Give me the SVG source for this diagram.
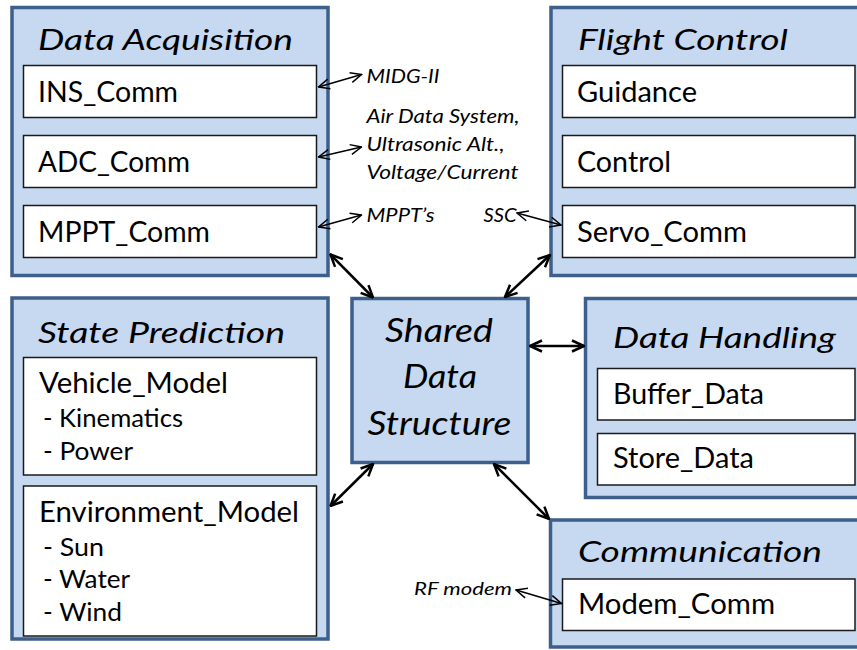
<svg xmlns="http://www.w3.org/2000/svg" width="857" height="650" viewBox="0 0 857 650">
<style>
.outer{fill:#c6d9f1;stroke:#3d5f8b;stroke-width:3.5}
.inner{fill:#ffffff;stroke:#1a1a1a;stroke-width:1.5}
text{font-family:Lato,"Open Sans","Liberation Sans",sans-serif;fill:#000}
.title{font-size:29px;font-style:italic}
.body{font-size:28px}
.sub{font-size:25px}
.shared{font-size:33px;font-style:italic}
.lbl{font-size:20px;font-style:italic}
.thin{stroke:#000;stroke-width:1.5;fill:none;marker-start:url(#ht);marker-end:url(#ht)}
.thick{stroke:#000;stroke-width:2.5;fill:none;marker-start:url(#hk);marker-end:url(#hk)}
</style>
<defs>
<marker id="ht" viewBox="0 0 13 13" refX="12" refY="6.5" markerWidth="13" markerHeight="13" markerUnits="userSpaceOnUse" orient="auto-start-reverse">
<path d="M1,1.5 L12,6.5 L1,11.5" fill="none" stroke="#000" stroke-width="1.5"/>
</marker>
<marker id="hk" viewBox="0 0 14 14" refX="13" refY="7" markerWidth="14" markerHeight="14" markerUnits="userSpaceOnUse" orient="auto-start-reverse">
<path d="M1,1.5 L13,7 L1,12.5" fill="none" stroke="#000" stroke-width="2.5"/>
</marker>
</defs>

<g id="data-acquisition">
<rect class="outer" x="12" y="7.5" width="316" height="268"/>
<text class="title" x="38" y="50" textLength="255" lengthAdjust="spacingAndGlyphs">Data Acquisition</text>
<rect class="inner" x="23.5" y="65.5" width="293" height="52"/>
<text class="body" x="38" y="102" textLength="140" lengthAdjust="spacingAndGlyphs">INS_Comm</text>
<rect class="inner" x="23.5" y="135.5" width="293" height="52"/>
<text class="body" x="38" y="172" textLength="152" lengthAdjust="spacingAndGlyphs">ADC_Comm</text>
<rect class="inner" x="23.5" y="205.5" width="293" height="52"/>
<text class="body" x="38" y="242" textLength="172" lengthAdjust="spacingAndGlyphs">MPPT_Comm</text>
</g>

<g id="flight-control">
<rect class="outer" x="551" y="7.5" width="330" height="268"/>
<text class="title" x="578" y="50" textLength="210" lengthAdjust="spacingAndGlyphs">Flight Control</text>
<rect class="inner" x="562.5" y="65.5" width="292.5" height="52"/>
<text class="body" x="577" y="102" textLength="120" lengthAdjust="spacingAndGlyphs">Guidance</text>
<rect class="inner" x="562.5" y="135.5" width="292.5" height="52"/>
<text class="body" x="577" y="172" textLength="94" lengthAdjust="spacingAndGlyphs">Control</text>
<rect class="inner" x="562.5" y="205.5" width="292.5" height="52"/>
<text class="body" x="577" y="242" textLength="170" lengthAdjust="spacingAndGlyphs">Servo_Comm</text>
</g>

<g id="state-prediction">
<rect class="outer" x="12" y="298" width="316" height="341"/>
<text class="title" x="38" y="342.5" textLength="247" lengthAdjust="spacingAndGlyphs">State Prediction</text>
<rect class="inner" x="23.5" y="357.5" width="293" height="117.5"/>
<text class="body" x="39" y="393" textLength="189" lengthAdjust="spacingAndGlyphs">Vehicle_Model</text>
<text class="sub" x="43" y="427" textLength="140" lengthAdjust="spacingAndGlyphs">- Kinematics</text>
<text class="sub" x="43" y="460" textLength="90" lengthAdjust="spacingAndGlyphs">- Power</text>
<rect class="inner" x="23.5" y="486" width="293" height="150"/>
<text class="body" x="39" y="522" textLength="260" lengthAdjust="spacingAndGlyphs">Environment_Model</text>
<text class="sub" x="43" y="556" textLength="61" lengthAdjust="spacingAndGlyphs">- Sun</text>
<text class="sub" x="43" y="588" textLength="87" lengthAdjust="spacingAndGlyphs">- Water</text>
<text class="sub" x="43" y="621" textLength="79" lengthAdjust="spacingAndGlyphs">- Wind</text>
</g>

<g id="shared-data-structure">
<rect class="outer" x="352" y="298.5" width="176" height="164"/>
<text class="shared" x="385" y="341.5" textLength="108" lengthAdjust="spacingAndGlyphs">Shared</text>
<text class="shared" x="403" y="388" textLength="74" lengthAdjust="spacingAndGlyphs">Data</text>
<text class="shared" x="367.5" y="435" textLength="144" lengthAdjust="spacingAndGlyphs">Structure</text>
</g>

<g id="data-handling">
<rect class="outer" x="585.5" y="298.5" width="300" height="199"/>
<text class="title" x="613" y="348" textLength="223" lengthAdjust="spacingAndGlyphs">Data Handling</text>
<rect class="inner" x="597.5" y="368.5" width="257.5" height="51.5"/>
<text class="body" x="613" y="404" textLength="151" lengthAdjust="spacingAndGlyphs">Buffer_Data</text>
<rect class="inner" x="597.5" y="433.5" width="257.5" height="51.5"/>
<text class="body" x="613" y="468" textLength="141" lengthAdjust="spacingAndGlyphs">Store_Data</text>
</g>

<g id="communication">
<rect class="outer" x="550.5" y="520" width="330" height="127"/>
<text class="title" x="578" y="562" textLength="244" lengthAdjust="spacingAndGlyphs">Communication</text>
<rect class="inner" x="562.5" y="579" width="292.5" height="51.5"/>
<text class="body" x="578" y="614" textLength="197" lengthAdjust="spacingAndGlyphs">Modem_Comm</text>
</g>

<g id="external-labels">
<text class="lbl" x="366.5" y="82.5" textLength="73" lengthAdjust="spacingAndGlyphs">MIDG-II</text>
<text class="lbl" x="366.5" y="123" textLength="153" lengthAdjust="spacingAndGlyphs">Air Data System,</text>
<text class="lbl" x="366.5" y="151" textLength="138" lengthAdjust="spacingAndGlyphs">Ultrasonic Alt.,</text>
<text class="lbl" x="366.5" y="178.5" textLength="152" lengthAdjust="spacingAndGlyphs">Voltage/Current</text>
<text class="lbl" x="366.5" y="222" textLength="68" lengthAdjust="spacingAndGlyphs">MPPT’s</text>
<text class="lbl" x="483.5" y="222" textLength="33" lengthAdjust="spacingAndGlyphs">SSC</text>
<text class="lbl" x="414" y="595" style="font-size:18px" textLength="98" lengthAdjust="spacingAndGlyphs">RF modem</text>
</g>

<g id="connectors">
<line class="thin" x1="318.5" y1="87" x2="361.5" y2="74.5"/>
<line class="thin" x1="318.5" y1="157" x2="361.5" y2="147"/>
<line class="thin" x1="318.5" y1="227" x2="361.5" y2="215"/>
<line class="thin" x1="517" y1="213" x2="561" y2="225"/>
<line class="thin" x1="516" y1="590" x2="561.5" y2="603.5"/>
<line class="thick" x1="330.5" y1="254.5" x2="373" y2="297.5"/>
<line class="thick" x1="550" y1="255" x2="505" y2="297"/>
<line class="thick" x1="530" y1="346" x2="584" y2="346"/>
<line class="thick" x1="373" y1="464" x2="330.5" y2="506"/>
<line class="thick" x1="494" y1="464" x2="549" y2="519"/>
</g>
</svg>
